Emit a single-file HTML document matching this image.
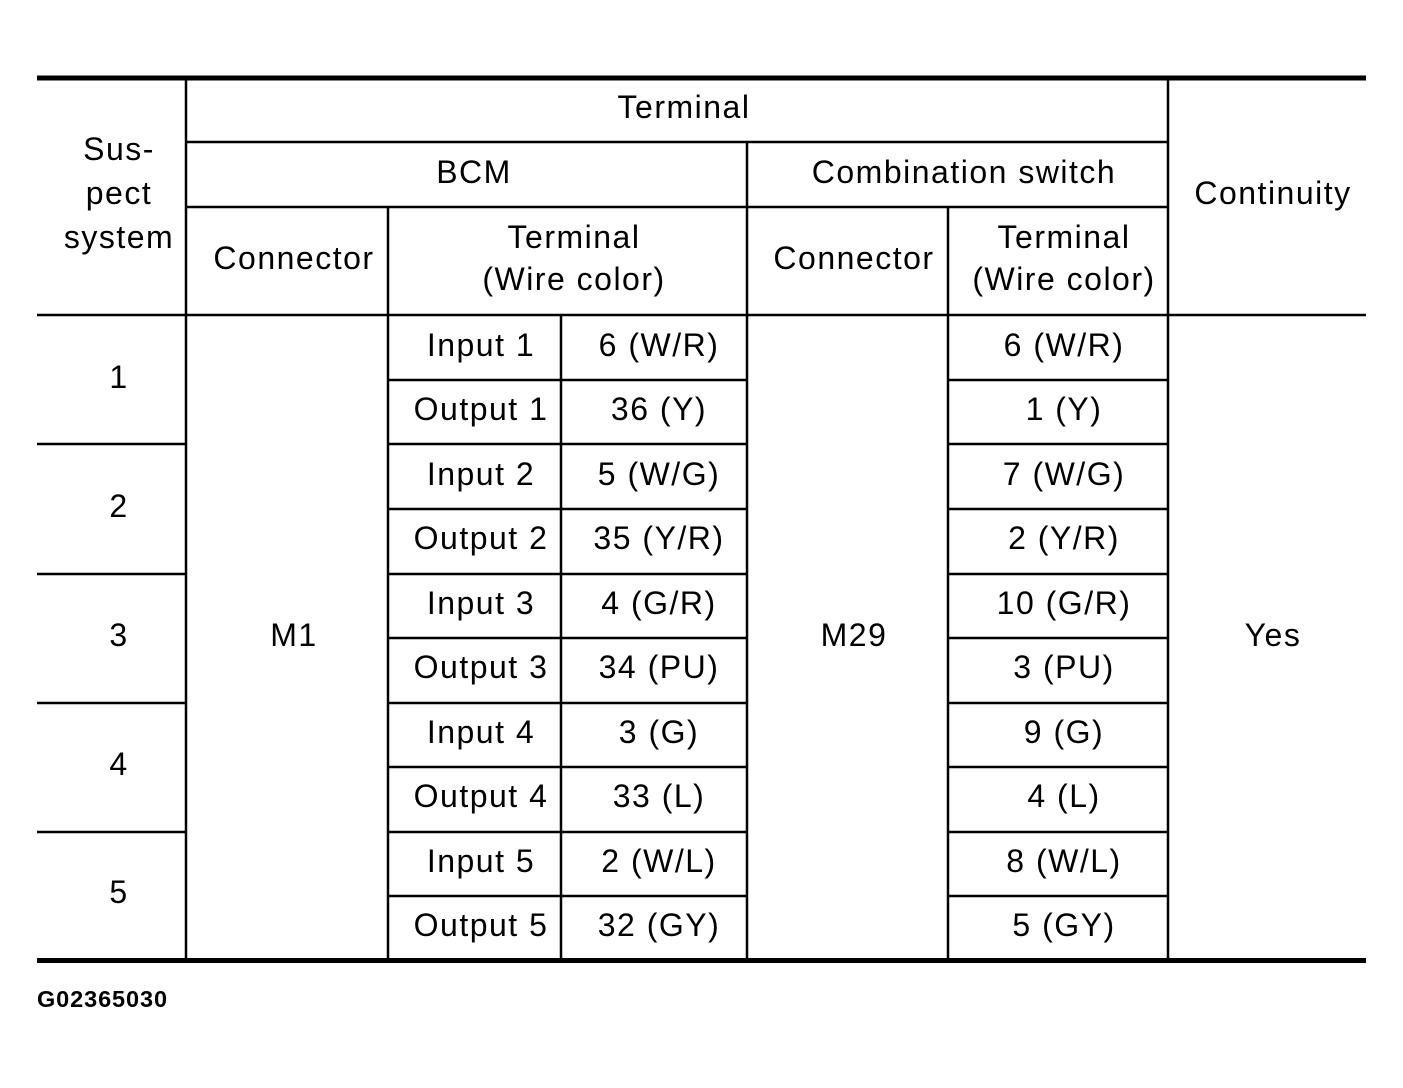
<!DOCTYPE html>
<html><head><meta charset="utf-8"><style>
html,body{margin:0;padding:0;background:#fff}
svg text{font-family:"Liberation Sans",Arial,sans-serif;font-size:32px;fill:#000;letter-spacing:1.5px}
</style></head><body>
<svg width="1403" height="1083" viewBox="0 0 1403 1083" xmlns="http://www.w3.org/2000/svg">
<g stroke="#000" stroke-width="2.5">
<line x1="37" y1="78" x2="1366" y2="78" stroke-width="5"/>
<line x1="37" y1="960.5" x2="1366" y2="960.5" stroke-width="5"/>
<line x1="37" y1="315" x2="1366" y2="315"/>
<line x1="186" y1="142" x2="1168" y2="142"/>
<line x1="186" y1="207" x2="1168" y2="207"/>
<line x1="186" y1="78" x2="186" y2="960"/>
<line x1="1168" y1="78" x2="1168" y2="960"/>
<line x1="747" y1="142" x2="747" y2="960"/>
<line x1="388" y1="207" x2="388" y2="960"/>
<line x1="948" y1="207" x2="948" y2="960"/>
<line x1="561" y1="315" x2="561" y2="960"/>
<line x1="37" y1="444" x2="186" y2="444"/>
<line x1="37" y1="574" x2="186" y2="574"/>
<line x1="37" y1="703" x2="186" y2="703"/>
<line x1="37" y1="832" x2="186" y2="832"/>
<path d="M388 380H747M388 444H747M388 509H747M388 574H747M388 638H747M388 703H747M388 767H747M388 832H747M388 896H747"/>
<path d="M948 380H1168M948 444H1168M948 509H1168M948 574H1168M948 638H1168M948 703H1168M948 767H1168M948 832H1168M948 896H1168"/>
</g>
<g text-anchor="middle">
<text x="684" y="118">Terminal</text>
<text x="474" y="183">BCM</text>
<text x="964" y="183">Combination switch</text>
<text x="1273" y="204">Continuity</text>
<text x="119" y="160">Sus-</text>
<text x="119" y="204">pect</text>
<text x="119" y="248">system</text>
<text x="294" y="269">Connector</text>
<text x="854" y="269">Connector</text>
<text x="574" y="248">Terminal</text>
<text x="574" y="290">(Wire color)</text>
<text x="1064" y="248">Terminal</text>
<text x="1064" y="290">(Wire color)</text>
<text x="119" y="388">1</text>
<text x="119" y="517">2</text>
<text x="119" y="646">3</text>
<text x="119" y="775">4</text>
<text x="119" y="903">5</text>
<text x="294" y="646">M1</text>
<text x="854" y="646">M29</text>
<text x="1273" y="646">Yes</text>
<text x="481" y="356">Input 1</text><text x="659" y="356">6 (W/R)</text><text x="1064" y="356">6 (W/R)</text>
<text x="481" y="420">Output 1</text><text x="659" y="420">36 (Y)</text><text x="1064" y="420">1 (Y)</text>
<text x="481" y="485">Input 2</text><text x="659" y="485">5 (W/G)</text><text x="1064" y="485">7 (W/G)</text>
<text x="481" y="549">Output 2</text><text x="659" y="549">35 (Y/R)</text><text x="1064" y="549">2 (Y/R)</text>
<text x="481" y="614">Input 3</text><text x="659" y="614">4 (G/R)</text><text x="1064" y="614">10 (G/R)</text>
<text x="481" y="678">Output 3</text><text x="659" y="678">34 (PU)</text><text x="1064" y="678">3 (PU)</text>
<text x="481" y="743">Input 4</text><text x="659" y="743">3 (G)</text><text x="1064" y="743">9 (G)</text>
<text x="481" y="807">Output 4</text><text x="659" y="807">33 (L)</text><text x="1064" y="807">4 (L)</text>
<text x="481" y="872">Input 5</text><text x="659" y="872">2 (W/L)</text><text x="1064" y="872">8 (W/L)</text>
<text x="481" y="936">Output 5</text><text x="659" y="936">32 (GY)</text><text x="1064" y="936">5 (GY)</text>
</g>
<text x="37" y="1007" style="font-size:23.5px;font-weight:bold;letter-spacing:0.9px">G02365030</text>
</svg>
</body></html>
